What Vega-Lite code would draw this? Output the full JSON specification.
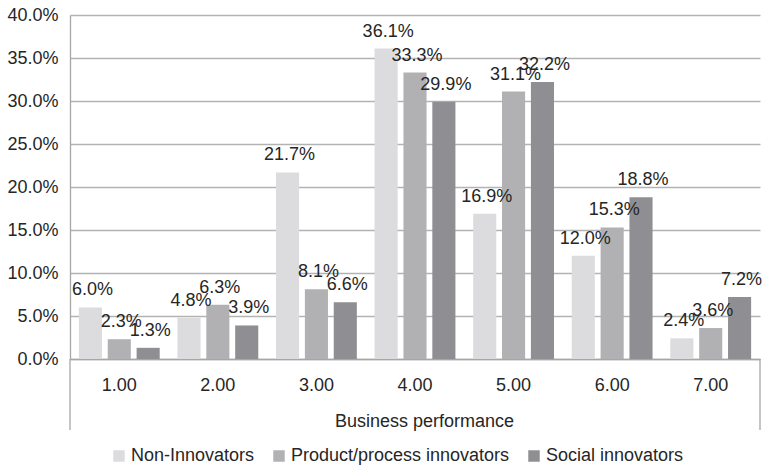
{
  "$schema": "https://vega.github.io/schema/vega-lite/v6.json",
  "width": 690,
  "height": 344,
  "autosize": "none",
  "padding": {"left": 70, "top": 15, "right": 3, "bottom": 107},
  "config": {
    "font": "Liberation Sans",
    "view": {"stroke": null},
    "axis": {"labelColor": "#262626", "titleColor": "#262626", "labelFontSize": 18, "titleFontSize": 18, "titleFontWeight": "normal", "domainColor": "#a6a6a6", "gridColor": "#b3b3b3", "gridWidth": 1.3, "domainWidth": 1.3},
    "text": {"font": "Liberation Sans"}
  },
  "layer": [
    {
      "data": {
        "values": [
          {"perf": "1.00", "series": "Non-Innovators", "value": 0.060},
          {"perf": "1.00", "series": "Product/process innovators", "value": 0.023},
          {"perf": "1.00", "series": "Social innovators", "value": 0.013},
          {"perf": "2.00", "series": "Non-Innovators", "value": 0.048},
          {"perf": "2.00", "series": "Product/process innovators", "value": 0.063},
          {"perf": "2.00", "series": "Social innovators", "value": 0.039},
          {"perf": "3.00", "series": "Non-Innovators", "value": 0.217},
          {"perf": "3.00", "series": "Product/process innovators", "value": 0.081},
          {"perf": "3.00", "series": "Social innovators", "value": 0.066},
          {"perf": "4.00", "series": "Non-Innovators", "value": 0.361},
          {"perf": "4.00", "series": "Product/process innovators", "value": 0.333},
          {"perf": "4.00", "series": "Social innovators", "value": 0.299},
          {"perf": "5.00", "series": "Non-Innovators", "value": 0.169},
          {"perf": "5.00", "series": "Product/process innovators", "value": 0.311},
          {"perf": "5.00", "series": "Social innovators", "value": 0.322},
          {"perf": "6.00", "series": "Non-Innovators", "value": 0.120},
          {"perf": "6.00", "series": "Product/process innovators", "value": 0.153},
          {"perf": "6.00", "series": "Social innovators", "value": 0.188},
          {"perf": "7.00", "series": "Non-Innovators", "value": 0.024},
          {"perf": "7.00", "series": "Product/process innovators", "value": 0.036},
          {"perf": "7.00", "series": "Social innovators", "value": 0.072}
        ]
      },
      "encoding": {
        "x": {
          "field": "perf", "type": "ordinal",
          "scale": {"paddingInner": 0.18, "paddingOuter": 0.09},
          "axis": {"title": "Business performance", "labelAngle": 0, "ticks": false, "labelPadding": 17, "titlePadding": 18, "titleX": 354, "titleAlign": "center", "grid": false}
        },
        "xOffset": {
          "field": "series",
          "sort": ["Non-Innovators", "Product/process innovators", "Social innovators"],
          "scale": {"paddingInner": 0.2}
        },
        "y": {
          "field": "value", "type": "quantitative",
          "scale": {"domain": [0, 0.4]},
          "axis": {"title": null, "format": ".1%", "values": [0, 0.05, 0.1, 0.15, 0.2, 0.25, 0.3, 0.35, 0.4], "ticks": false, "labelPadding": 12, "grid": true}
        }
      },
      "layer": [
        {
          "mark": {"type": "bar"},
          "encoding": {
            "color": {
              "field": "series", "type": "nominal",
              "scale": {"domain": ["Non-Innovators", "Product/process innovators", "Social innovators"], "range": ["#dcdcde", "#b1b1b4", "#8f8f93"]},
              "legend": {"title": null, "orient": "none", "legendX": 40, "legendY": 432, "direction": "horizontal", "symbolType": "square", "symbolSize": 132, "symbolStrokeWidth": 0, "labelFontSize": 18, "labelLimit": 0, "labelColor": "#262626", "labelOffset": 3, "columnPadding": 15}
            }
          }
        },
        {
          "mark": {"type": "text", "baseline": "alphabetic", "dy": -12, "dx": 2, "fontSize": 18, "color": "#262626"},
          "encoding": {"text": {"field": "value", "type": "quantitative", "format": ".1%"}}
        }
      ]
    },
    {
      "data": {"values": [{"edge": 0}, {"edge": 1}]},
      "mark": {"type": "rule", "color": "#a6a6a6", "strokeWidth": 1.3, "clip": false},
      "encoding": {
        "x": {"field": "edge", "type": "quantitative", "scale": {"domain": [0, 1], "nice": false}, "axis": null},
        "y": {"datum": 0},
        "y2": {"datum": -0.0826}
      }
    }
  ],
  "resolve": {"scale": {"x": "independent"}}
}
